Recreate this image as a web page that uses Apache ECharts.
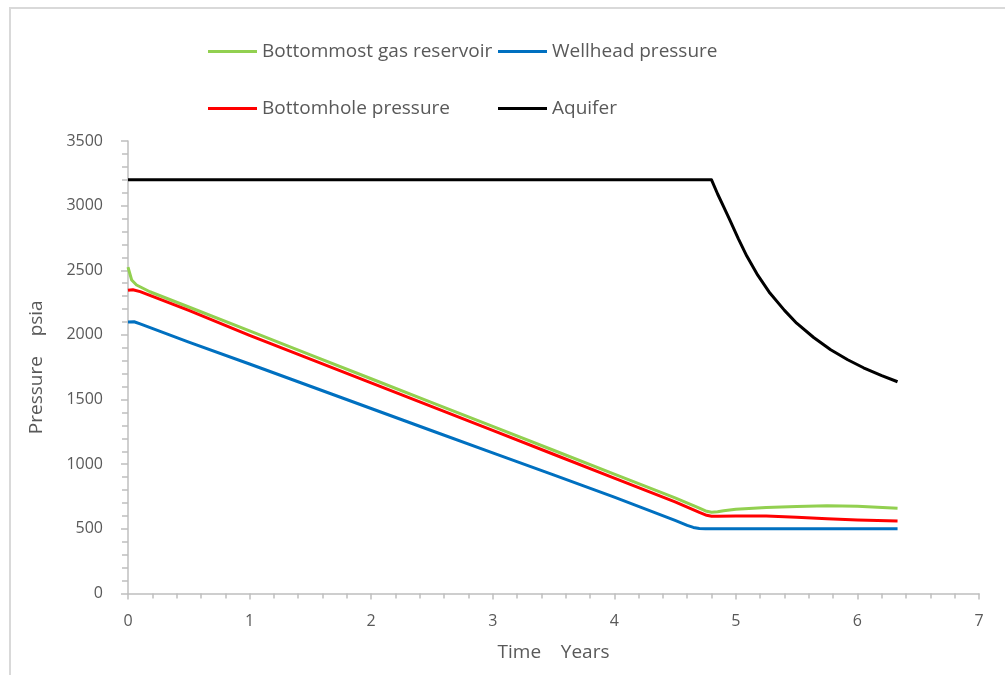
<!DOCTYPE html>
<html>
<head>
<meta charset="utf-8">
<script src="https://cdn.jsdelivr.net/npm/echarts@6/dist/echarts.min.js"></script>
<style>
html,body{margin:0;padding:0;background:#fff;}
#chart{width:1005px;height:675px;}
</style>
</head>
<body>
<div id="chart"></div>
<script>
// Time in years, pressure in psia
const seriesNames = ['Bottommost gas reservoir', 'Wellhead pressure', 'Bottomhole pressure', 'Aquifer'];

const gasTime = [0, 0.03, 0.07, 0.18, 0.5, 1, 1.5, 2, 2.5, 3, 3.5, 4, 4.5, 4.7, 4.76, 4.8, 4.85, 4.9, 5.0, 5.25, 5.5, 5.75, 6.0, 6.33];
const gasP    = [2525, 2425, 2386, 2334, 2216, 2031, 1846, 1661, 1477, 1292, 1108, 923, 739, 660, 636, 628, 632, 640, 652, 665, 672, 678, 675, 660];

const wellTime = [0, 0.05, 0.1, 0.5, 1, 1.5, 2, 2.5, 3, 3.5, 4, 4.5, 4.6, 4.65, 4.7, 4.75, 5.5, 6.33];
const wellP    = [2100, 2102, 2085, 1945, 1775, 1603, 1431, 1259, 1088, 917, 745, 565, 527, 511, 503, 500, 500, 500];

const holeTime = [0, 0.04, 0.1, 0.5, 1, 1.5, 2, 2.5, 3, 3.5, 4, 4.5, 4.7, 4.76, 4.8, 4.85, 5.0, 5.25, 5.5, 5.75, 6.0, 6.33];
const holeP    = [2345, 2350, 2335, 2190, 1997, 1813, 1629, 1445, 1261, 1077, 893, 709, 627, 605, 598, 597, 600, 600, 590, 578, 568, 560];

const aqTime = [0, 4.8, 4.85, 4.9, 4.95, 5.02, 5.09, 5.18, 5.28, 5.4, 5.5, 5.64, 5.78, 5.92, 6.05, 6.2, 6.33];
const aqP    = [3200, 3200, 3090, 2990, 2890, 2745, 2610, 2462, 2324, 2190, 2091, 1980, 1885, 1808, 1746, 1686, 1638];

const xTicks = [0, 1, 2, 3, 4, 5, 6, 7];
const yTicks = [0, 500, 1000, 1500, 2000, 2500, 3000, 3500];

function pairs(xs, ys) { return xs.map((x, i) => [x, ys[i]]); }

const colors = ['#92d050', '#0070c0', '#ff0000', '#000000'];
const FONT = 'Open Sans';
const gray = '#595959';
const axisGray = '#bfbfbf';

const chart = echarts.init(document.getElementById('chart'));

function legendAt(name, left, top) {
  return {
    data: [{ name: name, icon: 'rect' }], left: left, top: top, orient: 'horizontal',
    itemWidth: 49, itemHeight: 3, itemGap: 6, padding: 0,
    textStyle: { fontFamily: FONT, fontSize: 19, color: gray },
    selectedMode: false
  };
}

chart.setOption({
  animation: false,
  backgroundColor: '#fff',
  color: colors,
  graphic: [{
    type: 'rect', shape: { x: 10, y: 8, width: 1010, height: 690 },
    style: { fill: 'none', stroke: '#d9d9d9', lineWidth: 2 }, silent: true
  }],
  legend: [
    legendAt(seriesNames[0], 208, 42),
    legendAt(seriesNames[1], 498, 42),
    legendAt(seriesNames[2], 208, 99),
    legendAt(seriesNames[3], 498, 99)
  ],
  grid: { left: 128, right: 26, top: 141, bottom: 81.5, containLabel: false },
  xAxis: {
    type: 'value', min: xTicks[0], max: xTicks[xTicks.length - 1], interval: 1,
    name: 'Time    Years', nameLocation: 'middle', nameGap: 50,
    nameTextStyle: { fontFamily: FONT, fontSize: 19, color: gray },
    axisLine: { show: true, lineStyle: { color: axisGray, width: 1.5 } },
    axisTick: { show: true, length: 6, lineStyle: { color: axisGray, width: 1.5 } },
    minorTick: { show: true, splitNumber: 5, length: 5, lineStyle: { color: axisGray, width: 1.5 } },
    splitLine: { show: false },
    axisLabel: { fontFamily: FONT, fontSize: 16, color: gray, margin: 20 }
  },
  yAxis: {
    type: 'value', min: yTicks[0], max: yTicks[yTicks.length - 1], interval: 500,
    name: 'Pressure    psia', nameLocation: 'middle', nameGap: 82,
    nameTextStyle: { fontFamily: FONT, fontSize: 19, color: gray },
    axisLine: { show: true, lineStyle: { color: axisGray, width: 1.5 } },
    axisTick: { show: true, length: 7, lineStyle: { color: axisGray, width: 1.5 } },
    minorTick: { show: true, splitNumber: 5, length: 6, lineStyle: { color: axisGray, width: 1.5 } },
    splitLine: { show: false },
    axisLabel: { fontFamily: FONT, fontSize: 16, color: gray, margin: 25, formatter: v => String(v) }
  },
  series: [
    { name: seriesNames[0], type: 'line', data: pairs(gasTime, gasP), symbol: 'none', lineStyle: { width: 3, color: colors[0], join: 'round' }, itemStyle: { color: colors[0] } },
    { name: seriesNames[1], type: 'line', data: pairs(wellTime, wellP), symbol: 'none', lineStyle: { width: 3, color: colors[1], join: 'round' }, itemStyle: { color: colors[1] } },
    { name: seriesNames[2], type: 'line', data: pairs(holeTime, holeP), symbol: 'none', lineStyle: { width: 3, color: colors[2], join: 'round' }, itemStyle: { color: colors[2] } },
    { name: seriesNames[3], type: 'line', data: pairs(aqTime, aqP), symbol: 'none', lineStyle: { width: 3, color: colors[3], join: 'round' }, itemStyle: { color: colors[3] } }
  ]
});
</script>
</body>
</html>
